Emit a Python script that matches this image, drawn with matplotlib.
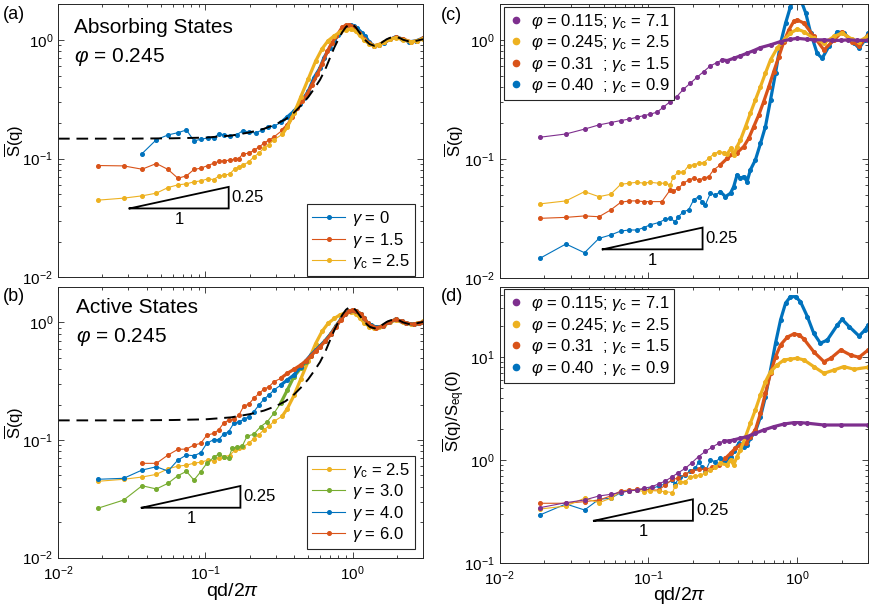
import matplotlib
matplotlib.use("Agg")
import matplotlib.pyplot as plt
from matplotlib.lines import Line2D

plt.rcParams['font.family'] = ['Liberation Sans', 'DejaVu Sans']
plt.rcParams['mathtext.fontset'] = 'custom'
plt.rcParams['mathtext.rm'] = 'Liberation Sans'
plt.rcParams['mathtext.it'] = 'Liberation Sans:italic'
plt.rcParams['mathtext.bf'] = 'Liberation Sans:bold'

C_BLUE = '#0072BD'
C_RED = '#D95319'
C_YEL = '#EDB120'
C_PUR = '#7E2F8E'
C_GRN = '#77AC30'

# ---------------- data: panel (a) absorbing states ----------------
qa_g0 = [0.0372, 0.0465, 0.0558, 0.0651, 0.0744, 0.0837, 0.093, 0.104, 0.114, 0.123,
         0.133, 0.146, 0.164, 0.180, 0.197, 0.219, 0.243, 0.267, 0.292, 0.327,
         0.36, 0.40, 0.44, 0.467, 0.50, 0.546, 0.60, 0.638, 0.70, 0.746,
         0.80, 0.851, 0.90, 0.97, 1.02, 1.07, 1.15, 1.22, 1.30, 1.40,
         1.50, 1.63, 1.80, 1.96, 2.15, 2.42, 2.7, 2.98]
Sa_g0 = [0.110, 0.144, 0.158, 0.165, 0.174, 0.141, 0.145, 0.149, 0.149, 0.161,
         0.159, 0.155, 0.159, 0.172, 0.167, 0.164, 0.174, 0.184, 0.187, 0.202,
         0.224, 0.251, 0.29, 0.326, 0.37, 0.48, 0.58, 0.706, 0.86, 0.973,
         1.10, 1.22, 1.30, 1.33, 1.30, 1.26, 1.15, 1.07, 0.95, 0.89,
         0.90, 0.944, 1.01, 1.06, 1.02, 0.96, 0.98, 1.03]

qa_g15 = [0.0186, 0.0279, 0.0372, 0.0465, 0.0558, 0.0651, 0.0744, 0.0837, 0.093, 0.104,
          0.114, 0.123, 0.133, 0.146, 0.158, 0.168, 0.180, 0.197, 0.213, 0.231,
          0.249, 0.269, 0.292, 0.333, 0.36, 0.39, 0.422, 0.455, 0.49, 0.53,
          0.576, 0.62, 0.674, 0.72, 0.776, 0.85, 0.90, 0.95, 1.02, 1.1,
          1.2, 1.3, 1.4, 1.5, 1.63, 1.8, 1.96, 2.2, 2.5, 2.75, 3.0]
Sa_g15 = [0.0873, 0.0867, 0.0813, 0.0908, 0.0809, 0.0683, 0.0714, 0.0809, 0.0829, 0.0873,
          0.0913, 0.0944, 0.0958, 0.0968, 0.0987, 0.100, 0.109, 0.111, 0.117, 0.125,
          0.134, 0.143, 0.152, 0.173, 0.190, 0.225, 0.268, 0.305, 0.347, 0.42,
          0.51, 0.63, 0.80, 0.94, 1.07, 1.28, 1.32, 1.34, 1.29, 1.14,
          1.02, 0.93, 0.89, 0.91, 0.95, 1.01, 1.05, 1.01, 0.96, 0.98, 1.03]

# gamma_c = 2.5 at phi = 0.245 (shared by panels a and b)
q_gc25 = [0.0186, 0.0279, 0.0372, 0.0465, 0.0558, 0.0651, 0.0744, 0.0837, 0.093, 0.104,
          0.114, 0.123, 0.133, 0.146, 0.158, 0.168, 0.180, 0.197, 0.213, 0.231,
          0.249, 0.269, 0.292, 0.333, 0.36, 0.40, 0.444, 0.50, 0.56, 0.62,
          0.68, 0.75, 0.82, 0.90, 0.97, 1.05, 1.12, 1.2, 1.3, 1.4,
          1.5, 1.63, 1.8, 1.96, 2.2, 2.5, 2.75, 3.0]
S_gc25 = [0.0446, 0.0464, 0.0485, 0.0511, 0.057, 0.060, 0.0612, 0.0636, 0.0648, 0.0674,
          0.0665, 0.0710, 0.0724, 0.0738, 0.0818, 0.0849, 0.0879, 0.0937, 0.103, 0.111,
          0.122, 0.131, 0.144, 0.160, 0.185, 0.24, 0.33, 0.47, 0.66, 0.84,
          0.98, 1.08, 1.16, 1.21, 1.23, 1.18, 1.09, 0.99, 0.92, 0.89,
          0.91, 0.95, 1.01, 1.04, 1.0, 0.96, 0.98, 1.02]

# equilibrium structure factor (dashed)
q_eq = [0.01, 0.03, 0.06, 0.1, 0.15, 0.2, 0.25, 0.3, 0.35, 0.4,
        0.45, 0.5, 0.55, 0.6, 0.65, 0.7, 0.75, 0.8, 0.85, 0.9,
        0.95, 1.0, 1.05, 1.1, 1.2, 1.3, 1.4, 1.5, 1.6, 1.7,
        1.8, 1.9, 2.0, 2.1, 2.2, 2.4, 2.6, 2.8, 3.0]
S_eq = [0.147, 0.147, 0.148, 0.150, 0.156, 0.166, 0.178, 0.194, 0.214, 0.244,
        0.283, 0.330, 0.39, 0.46, 0.56, 0.70, 0.86, 1.01, 1.16, 1.28,
        1.35, 1.34, 1.27, 1.17, 1.01, 0.92, 0.89, 0.91, 0.96, 1.01,
        1.04, 1.05, 1.05, 1.03, 1.0, 0.97, 0.97, 0.99, 1.01]

# ---------------- data: panel (b) active states ----------------
qb_g3 = [0.0186, 0.0279, 0.0372, 0.0465, 0.0558, 0.0651, 0.0744, 0.0837, 0.093, 0.1023,
         0.114, 0.123, 0.133, 0.144, 0.152, 0.164, 0.178, 0.192, 0.213, 0.237,
         0.263, 0.292, 0.324, 0.36, 0.399, 0.443,
         0.48, 0.52, 0.56, 0.60, 0.65, 0.71, 0.77, 0.83, 0.89, 0.95,
         1.0, 1.06, 1.13, 1.2, 1.27, 1.33, 1.45, 1.6, 1.75, 1.96,
         2.15, 2.3, 2.6, 2.8, 3.0]
Sb_g3 = [0.0263, 0.0309, 0.0409, 0.0384, 0.0429, 0.0498, 0.0542, 0.0457, 0.0538, 0.0634,
         0.0713, 0.076, 0.0721, 0.0707, 0.085, 0.0877, 0.0889, 0.108, 0.112, 0.130,
         0.143, 0.169, 0.205, 0.266, 0.345, 0.407,
         0.46, 0.52, 0.58, 0.63, 0.70, 0.80, 0.93, 1.06, 1.18, 1.25,
         1.27, 1.24, 1.19, 1.08, 0.98, 0.95, 0.91, 0.93, 1.0, 1.06,
         1.02, 0.99, 0.96, 0.98, 1.0]

qb_g4 = [0.0186, 0.0279, 0.0372, 0.0465, 0.0558, 0.0651, 0.0744, 0.0837, 0.093, 0.1023,
         0.114, 0.123, 0.133, 0.144, 0.156, 0.169, 0.182, 0.197, 0.213, 0.231,
         0.249, 0.27, 0.292, 0.324, 0.36, 0.399, 0.443,
         0.48, 0.52, 0.56, 0.60, 0.65, 0.71, 0.77, 0.83, 0.89, 0.95,
         1.0, 1.06, 1.13, 1.2, 1.27, 1.33, 1.45, 1.6, 1.75, 1.96,
         2.15, 2.3, 2.6, 2.8, 3.0]
Sb_g4 = [0.0464, 0.0473, 0.0556, 0.0593, 0.0545, 0.0676, 0.0746, 0.0736, 0.078, 0.0937,
         0.101, 0.101, 0.112, 0.118, 0.139, 0.143, 0.150, 0.158, 0.174, 0.198,
         0.222, 0.241, 0.266, 0.293, 0.324, 0.357, 0.42,
         0.47, 0.53, 0.58, 0.63, 0.70, 0.80, 0.93, 1.06, 1.18, 1.25,
         1.27, 1.24, 1.18, 1.08, 0.98, 0.95, 0.91, 0.93, 1.0, 1.06,
         1.02, 0.99, 0.96, 0.98, 1.0]

qb_g6 = [0.0372, 0.0465, 0.0558, 0.0651, 0.0744, 0.0837, 0.093, 0.1023, 0.114, 0.123,
         0.133, 0.144, 0.156, 0.169, 0.182, 0.197, 0.213, 0.231, 0.249, 0.27,
         0.292, 0.324, 0.36, 0.399, 0.443,
         0.48, 0.52, 0.56, 0.60, 0.65, 0.71, 0.77, 0.83, 0.89, 0.95,
         1.0, 1.06, 1.13, 1.2, 1.27, 1.33, 1.45, 1.6, 1.75, 1.96,
         2.15, 2.3, 2.6, 2.8, 3.0]
Sb_g6 = [0.0634, 0.0634, 0.0746, 0.0834, 0.0838, 0.0907, 0.0937, 0.110, 0.114, 0.122,
         0.139, 0.148, 0.150, 0.163, 0.194, 0.202, 0.226, 0.249, 0.27, 0.284,
         0.313, 0.334, 0.369, 0.399, 0.434,
         0.47, 0.52, 0.57, 0.62, 0.69, 0.79, 0.92, 1.05, 1.17, 1.25,
         1.28, 1.25, 1.19, 1.08, 0.98, 0.94, 0.90, 0.93, 1.0, 1.06,
         1.02, 0.99, 0.96, 0.98, 1.01]

# ---------------- data: panel (c) critical states ----------------
qc_p115 = [0.0186, 0.0279, 0.0372, 0.0465, 0.0558, 0.0651, 0.0744, 0.0837, 0.093, 0.1023,
           0.114, 0.126, 0.140, 0.155, 0.172, 0.191, 0.212, 0.235, 0.261, 0.289,
           0.313, 0.338, 0.374, 0.415, 0.46, 0.51, 0.566, 0.661, 0.772, 0.90,
           1.0, 1.17, 1.3, 1.51, 1.7, 1.96, 2.2, 2.5, 3.0]
Sc_p115 = [0.152, 0.162, 0.178, 0.193, 0.202, 0.210, 0.216, 0.224, 0.231, 0.237,
           0.247, 0.272, 0.303, 0.334, 0.385, 0.432, 0.485, 0.542, 0.605, 0.645,
           0.68, 0.67, 0.70, 0.734, 0.772, 0.813, 0.861, 0.908, 0.968, 1.01,
           1.03, 1.01, 1.0, 1.0, 0.99, 0.99, 1.0, 0.99, 0.99]

qc_p245 = [0.0186, 0.0279, 0.0372, 0.0465, 0.0558, 0.0651, 0.0744, 0.0837, 0.093, 0.1023,
           0.117, 0.130, 0.140, 0.147, 0.159, 0.172, 0.186, 0.201, 0.217, 0.235,
           0.254, 0.274, 0.296, 0.321, 0.338, 0.359, 0.374, 0.394, 0.415, 0.449,
           0.484, 0.523, 0.566, 0.611, 0.661, 0.733, 0.813, 0.90, 1.0, 1.11,
           1.29, 1.51, 1.77, 2.0, 2.34, 2.6, 3.0]
Sc_p245 = [0.0419, 0.0444, 0.0531, 0.0482, 0.0505, 0.0612, 0.0625, 0.0637, 0.0625, 0.0637,
           0.0625, 0.0625, 0.0605, 0.071, 0.0773, 0.0773, 0.0879, 0.0891, 0.092, 0.0931,
           0.101, 0.110, 0.115, 0.113, 0.110, 0.123, 0.108, 0.127, 0.144, 0.187,
           0.242, 0.313, 0.405, 0.525, 0.679, 0.851, 1.0, 1.14, 1.23, 1.17,
           1.03, 0.938, 1.07, 1.14, 1.01, 0.968, 1.08]

qc_p31 = [0.0186, 0.0279, 0.0372, 0.0465, 0.0558, 0.0651, 0.0744, 0.0837, 0.093, 0.1023,
          0.123, 0.140, 0.147, 0.159, 0.172, 0.186, 0.201, 0.217, 0.235, 0.254,
          0.274, 0.304, 0.338, 0.365, 0.394, 0.437, 0.472, 0.51, 0.551, 0.595,
          0.644, 0.695, 0.752, 0.813, 0.877, 0.948, 1.0, 1.11, 1.29, 1.51,
          1.77, 2.0, 2.34, 2.6, 3.0]
Sc_p31 = [0.0317, 0.0323, 0.0332, 0.0327, 0.0373, 0.0432, 0.0444, 0.0444, 0.0438, 0.0438,
          0.0438, 0.0549, 0.0538, 0.0567, 0.0625, 0.0666, 0.0688, 0.0666, 0.0688, 0.071,
          0.0809, 0.0891, 0.101, 0.109, 0.113, 0.127, 0.149, 0.187, 0.234, 0.303,
          0.405, 0.542, 0.724, 0.968, 1.21, 1.43, 1.47, 1.38, 1.07, 0.824,
          1.0, 1.17, 0.968, 0.88, 1.10]

qc_p40 = [0.0186, 0.0279, 0.0372, 0.0465, 0.0558, 0.0651, 0.0744, 0.0837, 0.093, 0.1023,
          0.117, 0.130, 0.140, 0.151, 0.159, 0.172, 0.186, 0.201, 0.217, 0.229,
          0.241, 0.261, 0.281, 0.304, 0.329, 0.356, 0.374, 0.394, 0.415, 0.437,
          0.46, 0.484, 0.523, 0.566, 0.611, 0.661, 0.714, 0.772, 0.834, 0.90,
          0.973, 1.05, 1.14, 1.23, 1.36, 1.47, 1.63, 1.86, 2.05, 2.41,
          2.6, 2.85, 3.0]
Sc_p40 = [0.0146, 0.0193, 0.0163, 0.0215, 0.023, 0.0248, 0.0253, 0.0253, 0.0265, 0.0279,
          0.0292, 0.0311, 0.0317, 0.0297, 0.0327, 0.0361, 0.0373, 0.0452, 0.0482, 0.0438,
          0.0411, 0.0515, 0.0498, 0.0531, 0.0482, 0.0515, 0.0585, 0.0734, 0.0688, 0.071,
          0.0645, 0.0809, 0.098, 0.135, 0.187, 0.313, 0.525, 0.938, 1.38, 1.9,
          2.35, 2.2, 1.68, 1.14, 0.77, 0.70, 0.88, 1.17, 1.14, 0.94,
          0.85, 1.0, 1.14]

# ---------------- data: panel (d) normalised by S_eq(0) ----------------
qd_p115 = [0.0186, 0.0279, 0.0372, 0.0465, 0.0558, 0.0651, 0.0744, 0.0837, 0.093, 0.1054,
           0.117, 0.130, 0.145, 0.159, 0.177, 0.196, 0.217, 0.241, 0.267, 0.296,
           0.321, 0.346, 0.374, 0.415, 0.46, 0.523, 0.595, 0.695, 0.813, 0.948,
           1.05, 1.17, 1.51, 1.96, 3.0]
Sd_p115 = [0.343, 0.384, 0.408, 0.446, 0.463, 0.484, 0.499, 0.510, 0.530, 0.550,
           0.584, 0.625, 0.689, 0.753, 0.83, 0.942, 1.08, 1.21, 1.33, 1.45,
           1.54, 1.53, 1.57, 1.63, 1.69, 1.82, 1.96, 2.11, 2.24, 2.31,
           2.31, 2.28, 2.19, 2.19, 2.19]

qd_p245 = [0.0186, 0.0279, 0.0372, 0.0465, 0.0558, 0.0651, 0.0744, 0.0837, 0.093, 0.1023,
           0.117, 0.130, 0.145, 0.151, 0.163, 0.177, 0.191, 0.207, 0.223, 0.241,
           0.261, 0.281, 0.304, 0.338, 0.356, 0.374, 0.394, 0.415, 0.449, 0.484,
           0.523, 0.566, 0.611, 0.661, 0.733, 0.813, 0.90, 1.0, 1.11, 1.29,
           1.51, 1.77, 2.05, 2.41, 3.0]
Sd_p245 = [0.333, 0.356, 0.424, 0.384, 0.424, 0.492, 0.503, 0.510, 0.492, 0.503,
           0.499, 0.492, 0.481, 0.558, 0.615, 0.615, 0.689, 0.699, 0.715, 0.742,
           0.80, 0.861, 0.928, 0.894, 1.0, 0.894, 1.08, 1.25, 1.69, 2.28,
           3.07, 4.30, 5.79, 7.25, 8.41, 9.41, 9.6, 9.78, 9.41, 8.11,
           6.98, 7.52, 8.11, 7.64, 8.0]

qd_p31 = [0.0186, 0.0279, 0.0372, 0.0465, 0.0558, 0.0651, 0.0744, 0.0837, 0.093, 0.1023,
          0.117, 0.130, 0.145, 0.159, 0.177, 0.196, 0.217, 0.241, 0.267, 0.296,
          0.329, 0.356, 0.384, 0.415, 0.449, 0.484, 0.523, 0.566, 0.611, 0.661,
          0.714, 0.772, 0.857, 0.948, 1.03, 1.11, 1.29, 1.51, 1.68, 1.96,
          2.28, 2.6, 3.0]
Sd_p31 = [0.379, 0.379, 0.393, 0.408, 0.446, 0.499, 0.510, 0.518, 0.518, 0.510,
          0.510, 0.571, 0.649, 0.664, 0.726, 0.782, 0.811, 0.811, 0.849, 0.894,
          1.04, 1.16, 1.30, 1.40, 1.45, 1.69, 1.96, 2.85, 4.46, 6.98,
          10.1, 13.2, 15.7, 16.9, 16.5, 15.0, 11.3, 9.06, 9.78, 11.8,
          10.5, 10.0, 11.8]

qd_p40 = [0.0186, 0.0279, 0.0372, 0.0465, 0.0558, 0.0651, 0.0744, 0.0837, 0.093, 0.1023,
          0.117, 0.130, 0.145, 0.151, 0.163, 0.177, 0.191, 0.207, 0.217, 0.229,
          0.241, 0.261, 0.281, 0.304, 0.329, 0.356, 0.374, 0.405, 0.437, 0.46,
          0.484, 0.523, 0.566, 0.611, 0.661, 0.714, 0.772, 0.834, 0.90, 0.973,
          1.05, 1.17, 1.29, 1.43, 1.59, 1.86, 2.0, 2.23, 2.6, 2.85,
          3.0]
Sd_p40 = [0.291, 0.373, 0.326, 0.414, 0.424, 0.481, 0.503, 0.510, 0.518, 0.518,
          0.558, 0.584, 0.639, 0.584, 0.689, 0.715, 0.787, 0.83, 0.963, 0.861,
          0.769, 1.0, 0.963, 1.04, 0.963, 1.08, 1.21, 1.45, 1.35, 1.40,
          1.63, 1.89, 2.64, 4.13, 7.52, 13.7, 23.1, 33.6, 38.9, 38.9,
          34.8, 24.8, 17.1, 13.7, 14.7, 20.6, 23.4, 19.9, 16.1, 18.4,
          20.6]

# slope-1/4 guide triangles: (x corners, y corners)
tri_a = ([0.0306, 0.144, 0.144, 0.0306], [0.038, 0.0577, 0.038, 0.038])
tri_b = ([0.037, 0.173, 0.173, 0.037], [0.0266, 0.0407, 0.0266, 0.0266])
tri_c = ([0.0493, 0.231, 0.231, 0.0493], [0.0174, 0.0265, 0.0174, 0.0174])
tri_d = ([0.043, 0.199, 0.199, 0.043], [0.256, 0.414, 0.256, 0.256])

leg_ab_a = [r'$\gamma$ = 0', r'$\gamma$ = 1.5', r'$\gamma_{\rm c}$ = 2.5']
leg_ab_b = [r'$\gamma_{\rm c}$ = 2.5', r'$\gamma$ = 3.0', r'$\gamma$ = 4.0', r'$\gamma$ = 6.0']
leg_cd = [r'$\varphi$ = 0.115; $\gamma_{\rm c}$ = 7.1',
          r'$\varphi$ = 0.245; $\gamma_{\rm c}$ = 2.5',
          r'$\varphi$ = 0.31  ; $\gamma_{\rm c}$ = 1.5',
          r'$\varphi$ = 0.40  ; $\gamma_{\rm c}$ = 0.9']
leg_cd_colors = [C_PUR, C_YEL, C_RED, C_BLUE]

W, H = 873, 606
fig = plt.figure(figsize=(W / 100, H / 100), dpi=100)


def box(l, t, r, b):
    return [l / W, 1 - b / H, (r - l) / W, (b - t) / H]


ax_a = fig.add_axes(box(58, 4, 423, 277.3))
ax_b = fig.add_axes(box(58, 287, 423, 557.7))
ax_c = fig.add_axes(box(499.6, 4, 868.3, 278))
ax_d = fig.add_axes(box(499.6, 287, 868.3, 562.7))

EDGE = '#262626'
for ax in (ax_a, ax_b, ax_c, ax_d):
    ax.set_xscale('log')
    ax.set_yscale('log')
    ax.set_xlim(0.01, 3.0)
    ax.tick_params(which='both', direction='in', top=True, right=True,
                   colors=EDGE, labelcolor='black', labelsize=11, width=0.6)
    ax.tick_params(which='major', length=4)
    ax.tick_params(which='minor', length=2.5)
    ax.tick_params(axis='x', which='both', pad=5)
    for s in ax.spines.values():
        s.set_color(EDGE)
        s.set_linewidth(0.7)

ax_a.set_ylim(0.01, 2.0)
ax_b.set_ylim(0.01, 2.0)
ax_c.set_ylim(0.01, 2.0)
ax_d.set_ylim(0.1, 48.3)
ax_a.tick_params(labelbottom=False)
ax_c.tick_params(labelbottom=False)

mk = dict(marker='o', markersize=2.6, linewidth=0.8)
Q_DENSE = 0.3   # above this q the measured points merge into a thick band


def series(ax, q, S, color, label=None):
    line, = ax.plot(q, S, color=color, label=label, **mk)
    qq = [x for x in q if x >= Q_DENSE]
    ss = [s for x, s in zip(q, S) if x >= Q_DENSE]
    ax.plot(qq, ss, color=color, linewidth=2.3, solid_capstyle='round',
            solid_joinstyle='round')
    return line


# panel (a)
ha = [series(ax_a, qa_g0, Sa_g0, C_BLUE, leg_ab_a[0]),
      series(ax_a, qa_g15, Sa_g15, C_RED, leg_ab_a[1]),
      series(ax_a, q_gc25, S_gc25, C_YEL, leg_ab_a[2])]
ax_a.plot(q_eq, S_eq, color='black', linewidth=1.4, dashes=(6, 3.5))

# panel (b)
hb = [series(ax_b, q_gc25, S_gc25, C_YEL, leg_ab_b[0]),
      series(ax_b, qb_g3, Sb_g3, C_GRN, leg_ab_b[1]),
      series(ax_b, qb_g4, Sb_g4, C_BLUE, leg_ab_b[2]),
      series(ax_b, qb_g6, Sb_g6, C_RED, leg_ab_b[3])]
ax_b.plot(q_eq, S_eq, color='black', linewidth=1.4, dashes=(6, 3.5))

# panels (c) and (d)
for q, S, c in [(qc_p40, Sc_p40, C_BLUE), (qc_p31, Sc_p31, C_RED),
                (qc_p245, Sc_p245, C_YEL), (qc_p115, Sc_p115, C_PUR)]:
    series(ax_c, q, S, c)
for q, S, c in [(qd_p40, Sd_p40, C_BLUE), (qd_p31, Sd_p31, C_RED),
                (qd_p245, Sd_p245, C_YEL), (qd_p115, Sd_p115, C_PUR)]:
    series(ax_d, q, S, c)

# slope triangles
for ax, tri in [(ax_a, tri_a), (ax_b, tri_b), (ax_c, tri_c), (ax_d, tri_d)]:
    ax.plot(tri[0], tri[1], color='black', linewidth=1.3, solid_joinstyle='miter')
    ax.text(tri[0][1] * 1.05, (tri[1][0] * tri[1][1]) ** 0.5, '0.25',
            fontsize=12, ha='left', va='center')
    ax.text((tri[0][0] * tri[0][1]) ** 0.5, tri[1][0] * 0.93, '1',
            fontsize=12, ha='center', va='top')

# legends
leg_kw = dict(fontsize=12, fancybox=False, framealpha=1, edgecolor=EDGE,
              borderaxespad=0, borderpad=0.3, labelspacing=0.15)
la = ax_a.legend(handles=ha, loc='lower right', bbox_to_anchor=(0.978, 0.004),
                 handlelength=2.0, handletextpad=0.4, **leg_kw)
lb = ax_b.legend(handles=hb, loc='lower right', bbox_to_anchor=(0.978, 0.031),
                 handlelength=2.0, handletextpad=0.4, **leg_kw)
dots = [Line2D([], [], linestyle='none', marker='o', markersize=4.5, color=c)
        for c in leg_cd_colors]
lc = ax_c.legend(dots, leg_cd, loc='upper left', bbox_to_anchor=(0.012, 0.99),
                 handlelength=0.8, handletextpad=0.5, **leg_kw)
ld = ax_d.legend(dots, leg_cd, loc='upper left', bbox_to_anchor=(0.012, 0.992),
                 handlelength=0.8, handletextpad=0.5, **leg_kw)
for lg in (la, lb, lc, ld):
    lg.get_frame().set_linewidth(0.8)

# in-panel titles
ax_a.text(0.044, 0.894, 'Absorbing States', transform=ax_a.transAxes,
          fontsize=15, va='baseline')
ax_a.text(0.044, 0.788, r'$\varphi$ = 0.245', transform=ax_a.transAxes,
          fontsize=15, va='baseline')
ax_b.text(0.05, 0.903, 'Active States', transform=ax_b.transAxes,
          fontsize=15, va='baseline')
ax_b.text(0.05, 0.798, r'$\varphi$ = 0.245', transform=ax_b.transAxes,
          fontsize=15, va='baseline')

# axis labels
ylab = r'$\overline{\mathrm{S}}$(q)'
ax_a.set_ylabel(ylab, fontsize=12)
ax_b.set_ylabel(ylab, fontsize=12)
ax_c.set_ylabel(ylab, fontsize=12)
ax_d.set_ylabel(r'$\overline{\mathrm{S}}$(q)/S$_{\rm eq}$(0)', fontsize=12)
ax_a.yaxis.set_label_coords(-0.088, 0.5)
ax_b.yaxis.set_label_coords(-0.088, 0.5)
ax_c.yaxis.set_label_coords(-0.09, 0.5)
ax_d.yaxis.set_label_coords(-0.088, 0.55)
ax_b.set_xlabel(r'qd/2$\pi$', fontsize=14)
ax_d.set_xlabel(r'qd/2$\pi$', fontsize=14)
ax_b.xaxis.set_label_coords(0.479, -0.085)
ax_d.xaxis.set_label_coords(0.487, -0.08)

# panel letters
for txt, x, y in [('(a)', 3, 6), ('(b)', 3, 288), ('(c)', 441, 7), ('(d)', 441, 288)]:
    fig.text(x / W, 1 - y / H, txt, fontsize=13, ha='left', va='top')

fig.savefig('out.png', dpi=100)
